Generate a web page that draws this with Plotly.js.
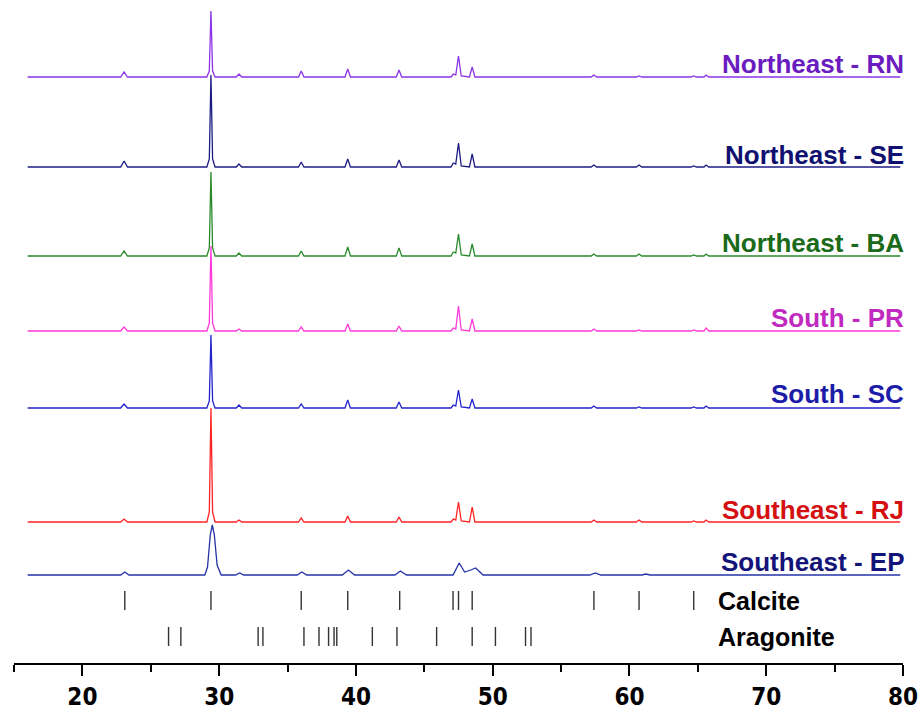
<!DOCTYPE html>
<html>
<head>
<meta charset="utf-8">
<script src="https://cdn.plot.ly/plotly-3.0.1.min.js"></script>
<style>
  html, body { margin: 0; padding: 0; background: #fff; }
  #chart { width: 921px; height: 712px; }
</style>
</head>
<body>
<div id="chart"></div>
<script>
// 2-theta key points (degrees) for the sharp patterns
const twoTheta = [16.0,
  22.8, 23.05, 23.3,
  29.1, 29.28, 29.4, 29.52, 29.7,
  31.25, 31.45, 31.65,
  35.8, 36.0, 36.2,
  39.2, 39.4, 39.6,
  42.95, 43.15, 43.35,
  46.95, 47.12, 47.3, 47.5, 47.7,
  48.3, 48.5, 48.7,
  57.2, 57.4, 57.6,
  60.5, 60.7, 60.9,
  64.5, 64.7, 64.9,
  65.45, 65.6, 65.8,
  79.8];

// intensities (arbitrary units)
const northeastRN = [0, 0,5,0, 0,6,66,6,0, 0,3,0, 0,6,0, 0,8,0, 0,7,0, 0,3,2,21,1, 0,10,0, 0,2,0, 0,1,0, 0,1,0, 0,2,0, 0];
const northeastSE = [0, 0,6,0, 0,8,92,8,0, 0,3,0, 0,5,0, 0,8,0, 0,7,0, 0,4,3,24,1, 0,13,0, 0,2,0, 0,2,0, 0,1,0, 0,2,0, 0];
const northeastBA = [0, 0,5,0, 0,8,84,8,0, 0,3,0, 0,5,0, 0,9,0, 0,8,0, 0,4,3,22,1, 0,12,0, 0,2,0, 0,2,0, 0,1,0, 0,2,0, 0];
const southPR     = [0, 0,4,0, 0,8,85,8,0, 0,2,0, 0,4,0, 0,7,0, 0,5,0, 0,3,2,25,1, 0,12,0, 0,2,0, 0,1,0, 0,1,0, 0,3,0, 0];
const southSC     = [0, 0,4,0, 0,7,73,7,0, 0,3,0, 0,4,0, 0,8,0, 0,6,0, 0,3,2,18,1, 0,9,0, 0,2,0, 0,1,0, 0,1,0, 0,2,0, 0];
const southeastRJ = [0, 0,3,0, 0,10,114,10,0, 0,2,0, 0,4,0, 0,6,0, 0,5,0, 0,3,2,20,1, 0,15,0, 0,2,0, 0,2,0, 0,1,0, 0,2,0, 0];

// broader pattern (Southeast - EP)
const twoThetaEP = [16.0, 22.8, 23.1, 23.4, 28.95, 29.15, 29.35, 29.5, 29.65, 29.85, 30.15,
  31.2, 31.5, 31.8, 35.7, 36.05, 36.4, 39.0, 39.45, 39.9, 42.85, 43.25, 43.7,
  47.1, 47.55, 47.95, 48.4, 48.75, 49.3, 57.1, 57.5, 57.9, 60.9, 61.2, 61.5, 79.8];
const southeastEP = [0, 0,3,0, 0,8,40,50,40,10,0,
  0,2,0, 0,3,0, 0,5,0, 0,4,0,
  0,12,3, 5,7,0, 0,2,0, 0,1,0, 0];

// stacking offsets for each pattern
const seriesNames  = ["Northeast - RN", "Northeast - SE", "Northeast - BA", "South - PR", "South - SC", "Southeast - RJ", "Southeast - EP"];
const seriesData   = [northeastRN, northeastSE, northeastBA, southPR, southSC, southeastRJ, southeastEP];
const seriesX      = [twoTheta, twoTheta, twoTheta, twoTheta, twoTheta, twoTheta, twoThetaEP];
const offsets      = [586, 496, 407, 332, 255, 141, 88];
const lineColors   = ["#8a35e8", "#1c1c84", "#2a8a2a", "#ff3ad8", "#2424cc", "#ff2424", "#2433a8"];
const labelColors  = ["#6a1cc0", "#101070", "#1a6a1a", "#c02ac0", "#1c1ca8", "#d41010", "#141478"];
const labelY       = [599, 508, 420, 345, 269, 153, 101];

// reference peak positions
const calcitePos   = [23.1, 29.4, 36.0, 39.4, 43.2, 47.1, 47.5, 48.5, 57.4, 60.7, 64.7];
const aragonitePos = [26.3, 27.2, 32.85, 33.2, 36.2, 37.3, 38.0, 38.4, 38.6, 41.2, 43.0, 45.9, 48.5, 50.2, 52.4, 52.8];
const xTicks = [20, 30, 40, 50, 60, 70, 80];

const traces = [];
for (let i = 0; i < seriesNames.length; i++) {
  traces.push({
    x: seriesX[i],
    y: seriesData[i].map(v => v + offsets[i]),
    type: "scatter", mode: "lines",
    line: { color: lineColors[i], width: 1.3 },
    name: seriesNames[i], hoverinfo: "skip"
  });
}
function refTrace(pos, y0, y1) {
  const x = [], y = [];
  pos.forEach(p => { x.push(p, p, null); y.push(y0, y1, null); });
  return { x, y, type: "scatter", mode: "lines", line: { color: "#333", width: 1.4 }, hoverinfo: "skip" };
}
traces.push(refTrace(calcitePos, 53, 72));
traces.push(refTrace(aragonitePos, 17, 36));

const labelFont = "Arial, Liberation Sans, sans-serif";
const annotations = seriesNames.map((n, i) => ({
  text: "<b>" + n + "</b>", xref: "paper", x: 1, xanchor: "right", xshift: 3,
  yref: "y", y: labelY[i], yanchor: "middle", showarrow: false,
  font: { family: labelFont, size: 26, color: labelColors[i] }
}));
annotations.push({ text: "<b>Calcite</b>", xref: "x", x: 66.3, xanchor: "left", yref: "y", y: 62, yanchor: "middle",
  showarrow: false, font: { family: labelFont, size: 25, color: "#000" } });
annotations.push({ text: "<b>Aragonite</b>", xref: "x", x: 66.3, xanchor: "left", yref: "y", y: 26, yanchor: "middle",
  showarrow: false, font: { family: labelFont, size: 25, color: "#000" } });

const layout = {
  width: 921, height: 712,
  margin: { l: 14, r: 18, t: 0, b: 49 },
  paper_bgcolor: "#fff", plot_bgcolor: "#fff",
  showlegend: false,
  xaxis: {
    range: [15, 80], showgrid: false, zeroline: false,
    showline: true, linecolor: "#000", linewidth: 2,
    ticks: "outside", ticklen: 11, tickwidth: 2, tickcolor: "#000",
    tickvals: xTicks, ticktext: xTicks.map(t => "<b>" + t + "</b>"),
    tickfont: { family: "DejaVu Sans Condensed, Arial, sans-serif", size: 24, color: "#000" },
    minor: { dtick: 5, tick0: 0, ticks: "outside", ticklen: 7, tickwidth: 2, tickcolor: "#000", showgrid: false }
  },
  yaxis: { range: [0, 663], visible: false, showgrid: false, zeroline: false, fixedrange: true },
  annotations
};
Plotly.newPlot("chart", traces, layout, { staticPlot: true, displayModeBar: false });
</script>
</body>
</html>
